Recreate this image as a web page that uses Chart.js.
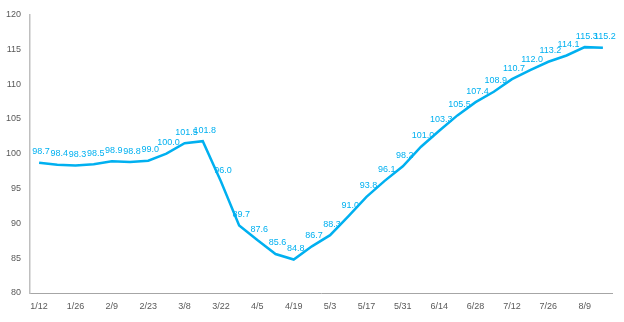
<!DOCTYPE html>
<html>
<head>
<meta charset="utf-8">
<script src="https://cdn.jsdelivr.net/npm/chart.js@4"></script>
<style>
  html, body { margin: 0; padding: 0; background: #fff; }
  #wrap { width: 624px; height: 322px; }
</style>
</head>
<body>
<div id="wrap"><canvas id="indexChart" width="624" height="322"></canvas></div>
<script>
// weekly dates, only every other one is labelled on the axis
const weeks = [
  '1/12', '1/19', '1/26', '2/2', '2/9', '2/16', '2/23', '3/1',
  '3/8', '3/15', '3/22', '3/29', '4/5', '4/12', '4/19', '4/26',
  '5/3', '5/10', '5/17', '5/24', '5/31', '6/7', '6/14', '6/21',
  '6/28', '7/5', '7/12', '7/19', '7/26', '8/2', '8/9', '8/16'
];
const indexValues = [
  98.7, 98.4, 98.3, 98.5, 98.9, 98.8, 99.0, 100.0,
  101.5, 101.8, 96.0, 89.7, 87.6, 85.6, 84.8, 86.7,
  88.3, 91.0, 93.8, 96.1, 98.2, 101.0, 103.3, 105.5,
  107.4, 108.9, 110.7, 112.0, 113.2, 114.1, 115.3, 115.2
];
const yTicks = [80, 85, 90, 95, 100, 105, 110, 115, 120];

const lineColor = '#00B0F0';
const tickColor = '#595959';
const fontFamily = '"Liberation Sans", Arial, sans-serif';

// draws the value above each point
const valueLabels = {
  id: 'valueLabels',
  afterDatasetsDraw(chart) {
    const ctx = chart.ctx;
    const meta = chart.getDatasetMeta(0);
    ctx.save();
    ctx.font = '9px ' + fontFamily;
    ctx.fillStyle = lineColor;
    ctx.textAlign = 'center';
    ctx.textBaseline = 'middle';
    meta.data.forEach((pt, i) => {
      ctx.fillText(indexValues[i].toFixed(1), pt.x + 2, pt.y - 11);
    });
    ctx.restore();
  }
};

new Chart(document.getElementById('indexChart').getContext('2d'), {
  type: 'line',
  data: {
    labels: weeks,
    datasets: [{
      data: indexValues,
      borderColor: lineColor,
      borderWidth: 2.5,
      pointRadius: 0,
      tension: 0,
      fill: false
    }]
  },
  options: {
    responsive: false,
    animation: false,
    layout: { padding: { top: 14, right: 12, left: 0, bottom: 0 } },
    plugins: {
      legend: { display: false },
      tooltip: { enabled: false }
    },
    scales: {
      x: {
        offset: true,
        grid: { display: false, drawTicks: false },
        border: { display: true, color: '#A6A6A6', width: 1 },
        afterFit: (scale) => { scale.height = 29; },
        ticks: {
          autoSkip: false,
          maxRotation: 0,
          padding: 8,
          color: tickColor,
          font: { family: fontFamily, size: 9 },
          callback: (val, i) => (i % 2 === 0 ? weeks[i] : '')
        }
      },
      y: {
        min: 80,
        max: 120,
        grid: { display: false, drawTicks: false },
        border: { display: true, color: '#BFBFBF', width: 1.5 },
        afterFit: (scale) => { scale.width = 30; },
        afterBuildTicks: (scale) => { scale.ticks = yTicks.map((v) => ({ value: v })); },
        ticks: {
          padding: 9,
          color: tickColor,
          font: { family: fontFamily, size: 9 }
        }
      }
    }
  },
  plugins: [valueLabels]
});
</script>
</body>
</html>
